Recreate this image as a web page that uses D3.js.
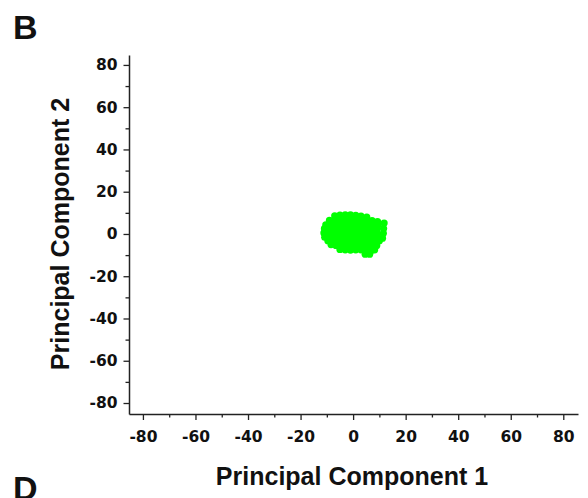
<!DOCTYPE html>
<html>
<head>
<meta charset="utf-8">
<script src="https://cdn.jsdelivr.net/npm/d3@7"></script>
<style>
  body { margin: 0; background: #fff; }
  svg { display: block; }
</style>
</head>
<body>
<div class="chart"></div>
<script>
// tick values for both axes
var majorTicks = [-80, -60, -40, -20, 0, 20, 40, 60, 80];
var minorTicks = [-70, -50, -30, -10, 10, 30, 50, 70];

// PCA scores (PC1, PC2)
var pc1 = [
  -7, -5, -3, -1, 1, 3, 5.2,
  -9, -7, -5, -3, -1, 1, 3, 5, 7.2, 9.3,
  -10.4, -8.5, -6.5, -4.5, -2.5, -0.5, 1.5, 3.5, 5.5, 7.5, 9.6, 11.8,
  -10.9, -8.8, -6.8, -4.8, -2.8, -0.8, 1.2, 3.2, 5.2, 7.2, 9.2, 11.6,
  -11.1, -9, -7, -5, -3, -1, 1, 3, 5, 7, 9, 11.5,
  -10.8, -8.8, -6.8, -4.8, -2.8, -0.8, 1.2, 3.2, 5.2, 7.2, 9.2, 11.2,
  -9.6, -7.8, -5.8, -3.8, -1.8, 0.2, 2.2, 4.2, 6.2, 8.2, 10,
  -8.4, -6.5, -4.5, -2.5, -0.5, 1.5, 3.5, 5.5, 7.5, 9,
  -5, -3, -1, 1, 3, 5, 7, 8.2,
  4.6, 6.3
];
var pc2 = [
  8.6, 8.9, 9.1, 9.0, 8.8, 8.5, 8.0,
  6.5, 6.8, 6.6, 6.7, 6.6, 6.5, 6.7, 6.4, 6.3, 5.8,
  4.3, 4.6, 4.5, 4.5, 4.6, 4.4, 4.5, 4.5, 4.4, 4.5, 4.6, 5.2,
  2.5, 2.4, 2.6, 2.5, 2.5, 2.4, 2.5, 2.6, 2.5, 2.4, 2.5, 2.6,
  0.5, 0.4, 0.6, 0.5, 0.5, 0.5, 0.4, 0.5, 0.6, 0.5, 0.5, 0.3,
  -1.5, -1.4, -1.6, -1.5, -1.5, -1.5, -1.4, -1.5, -1.6, -1.5, -1.5, -2.0,
  -3.2, -3.5, -3.6, -3.5, -3.5, -3.4, -3.5, -3.6, -3.5, -3.5, -3.2,
  -5.0, -5.4, -5.5, -5.6, -5.5, -5.5, -5.6, -5.5, -5.6, -5.4,
  -7.3, -7.5, -7.6, -7.5, -7.5, -7.6, -7.8, -7.5,
  -9.6, -9.6
];

var width = 588, height = 498;

var svg = d3.select(".chart").append("svg")
    .attr("width", width)
    .attr("height", height);

svg.append("rect").attr("width", width).attr("height", height).attr("fill", "#fff");

var x = d3.scaleLinear().domain([-85.3, 85.6]).range([129, 578]);
var y = d3.scaleLinear().domain([-85.2, 84.7]).range([414, 55]);

var tickFont = "'DejaVu Sans', sans-serif";
var titleFont = "'Liberation Sans', Arial, sans-serif";
var fmt = d => String(d);   // plain hyphen minus, like the original

// points
svg.append("g")
    .selectAll("circle")
    .data(d3.range(pc1.length))
    .join("circle")
    .attr("cx", i => x(pc1[i]))
    .attr("cy", i => y(pc2[i]))
    .attr("r", 3.6)
    .attr("fill", "#00ff00");

// minor ticks
svg.append("g")
    .attr("transform", "translate(0,414)")
    .call(d3.axisBottom(x).tickValues(minorTicks).tickSize(3.5).tickFormat("").tickSizeOuter(0))
    .call(g => g.select(".domain").remove())
    .call(g => g.selectAll("line").attr("stroke", "#222").attr("stroke-width", 1.3));

svg.append("g")
    .attr("transform", "translate(129,0)")
    .call(d3.axisLeft(y).tickValues(minorTicks).tickSize(3.5).tickFormat("").tickSizeOuter(0))
    .call(g => g.select(".domain").remove())
    .call(g => g.selectAll("line").attr("stroke", "#222").attr("stroke-width", 1.3));

// x axis
svg.append("g")
    .attr("transform", "translate(0,414)")
    .call(d3.axisBottom(x).tickValues(majorTicks).tickFormat(fmt).tickSize(6).tickPadding(11).tickSizeOuter(0))
    .call(g => g.select(".domain").attr("stroke", "#222").attr("stroke-width", 1.5))
    .call(g => g.selectAll("line").attr("stroke", "#222").attr("stroke-width", 1.3))
    .call(g => g.selectAll("text")
        .attr("font-family", tickFont)
        .attr("font-weight", "bold")
        .attr("font-size", 15.5)
        .attr("fill", "#111"));

// y axis
svg.append("g")
    .attr("transform", "translate(129,0)")
    .call(d3.axisLeft(y).tickValues(majorTicks).tickFormat(fmt).tickSize(5.5).tickPadding(6).tickSizeOuter(0))
    .call(g => g.select(".domain").attr("stroke", "#222").attr("stroke-width", 1.5))
    .call(g => g.selectAll("line").attr("stroke", "#222").attr("stroke-width", 1.3))
    .call(g => g.selectAll("text")
        .attr("font-family", tickFont)
        .attr("font-weight", "bold")
        .attr("font-size", 15.5)
        .attr("fill", "#111"));

// axis titles
svg.append("text")
    .attr("x", 352)
    .attr("y", 485)
    .attr("text-anchor", "middle")
    .attr("font-family", titleFont)
    .attr("font-weight", "bold")
    .attr("font-size", 25)
    .attr("fill", "#111")
    .text("Principal Component 1");

svg.append("text")
    .attr("transform", "translate(69,234) rotate(-90)")
    .attr("text-anchor", "middle")
    .attr("font-family", titleFont)
    .attr("font-weight", "bold")
    .attr("font-size", 25)
    .attr("fill", "#111")
    .text("Principal Component 2");

// panel letters (D belongs to the next panel and is cut by the frame)
svg.append("text")
    .attr("x", 13).attr("y", 39)
    .attr("font-family", titleFont)
    .attr("font-weight", "bold")
    .attr("font-size", 34)
    .attr("fill", "#111")
    .text("B");

svg.append("text")
    .attr("x", 13).attr("y", 500)
    .attr("font-family", titleFont)
    .attr("font-weight", "bold")
    .attr("font-size", 34)
    .attr("fill", "#111")
    .text("D");
</script>
</body>
</html>
